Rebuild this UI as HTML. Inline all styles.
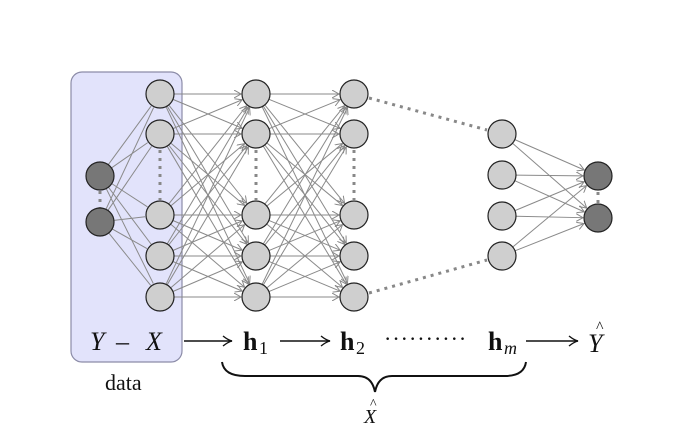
<!DOCTYPE html>
<html><head><meta charset="utf-8"><style>
html,body{margin:0;padding:0;background:#fff;}
svg{display:block;}
text{font-family:"Liberation Serif",serif;fill:#111;}
</style></head><body>
<svg id="s" width="696" height="442" viewBox="0 0 696 442" xmlns="http://www.w3.org/2000/svg">
<defs>
<marker id="a" markerWidth="8" markerHeight="8" refX="7" refY="4" orient="auto" markerUnits="userSpaceOnUse">
<path d="M0,0 L7,4 L0,8" fill="none" stroke="#888" stroke-width="1"/></marker>
<marker id="b" markerWidth="12" markerHeight="12" refX="10" refY="6" orient="auto" markerUnits="userSpaceOnUse">
<path d="M1,1 Q6,5 10,6 Q6,7 1,11" fill="none" stroke="#111" stroke-width="1.4"/></marker>
</defs>
<rect x="71" y="72" width="111" height="290" rx="11" fill="#e2e3fb" stroke="#8c8ca8" stroke-width="1.2"/>
<g id="edges" stroke="#8a8a8a" stroke-width="1" fill="none"></g>
<g stroke="#888" stroke-width="3" stroke-dasharray="3,5" fill="none">
<line x1="100" y1="191" x2="100" y2="208"/>
<line x1="160" y1="150" x2="160" y2="200"/>
<line x1="256" y1="150" x2="256" y2="200"/>
<line x1="354" y1="150" x2="354" y2="200"/>
<line x1="598" y1="192" x2="598" y2="204"/>
<line x1="369" y1="98" x2="487" y2="130"/>
<line x1="369" y1="293" x2="487" y2="260"/>
</g>
<g id="nodes" stroke="#222" stroke-width="1.2"></g>
<text x="90" y="350" font-size="26" font-style="italic">Y</text>
<text x="116" y="350" font-size="26">–</text>
<text x="146" y="350" font-size="26" font-style="italic">X</text>
<g stroke="#111" stroke-width="1.5" fill="none">
<line x1="184" y1="341" x2="232" y2="341" marker-end="url(#b)"/>
<line x1="280" y1="341" x2="330" y2="341" marker-end="url(#b)"/>
<line x1="526" y1="341" x2="578" y2="341" marker-end="url(#b)"/>
<path d="M222,362 Q224,376 245,376 L358,376 Q372,376 375,392 Q378,376 392,376 L505,376 Q524,376 526,362" stroke-width="2"/>
</g>
<text x="243" y="350" font-size="26" font-weight="bold">h</text><text x="259" y="354" font-size="18">1</text>
<text x="340" y="350" font-size="26" font-weight="bold">h</text><text x="356" y="354" font-size="18">2</text>
<text x="384" y="346" font-size="22" letter-spacing="1">··········</text>
<text x="488" y="350" font-size="26" font-weight="bold">h</text><text x="504" y="354" font-size="18" font-style="italic">m</text>
<text x="588" y="352" font-size="26" font-style="italic">Y</text><text x="596" y="332" font-size="16">^</text>
<text x="105" y="390" font-size="22">data</text>
<text x="364" y="423" font-size="20" font-style="italic">X</text><text x="370" y="408" font-size="14">^</text>
</svg>
<script>
var NS="http://www.w3.org/2000/svg",e=document.getElementById("edges"),n=document.getElementById("nodes");
var L0=[[100,176],[100,222]],ys=[94,134,215,256,297];
var L1=ys.map(y=>[160,y]),L2=ys.map(y=>[256,y]),L3=ys.map(y=>[354,y]);
var Lm=[134,175,216,256].map(y=>[502,y]),Lo=[[598,176],[598,218]],r=14;
function ln(p,q,arr){var dx=q[0]-p[0],dy=q[1]-p[1],d=Math.hypot(dx,dy);
var l=document.createElementNS(NS,"line");l.setAttribute("x1",p[0]+dx/d*r);l.setAttribute("y1",p[1]+dy/d*r);
l.setAttribute("x2",q[0]-dx/d*(r+1));l.setAttribute("y2",q[1]-dy/d*(r+1));if(arr)l.setAttribute("marker-end","url(#a)");e.appendChild(l);}
function full(A,B,arr){A.forEach(p=>B.forEach(q=>ln(p,q,arr)));}
full(L0,L1,false);full(L1,L2,true);full(L2,L3,true);full(Lm,Lo,true);
function nd(L,c){L.forEach(p=>{var k=document.createElementNS(NS,"circle");k.setAttribute("cx",p[0]);k.setAttribute("cy",p[1]);k.setAttribute("r",r);k.setAttribute("fill",c);n.appendChild(k);});}
nd(L0,"#777");nd(L1,"#cfcfcf");nd(L2,"#cfcfcf");nd(L3,"#cfcfcf");nd(Lm,"#cfcfcf");nd(Lo,"#777");
</script>
</body></html>
